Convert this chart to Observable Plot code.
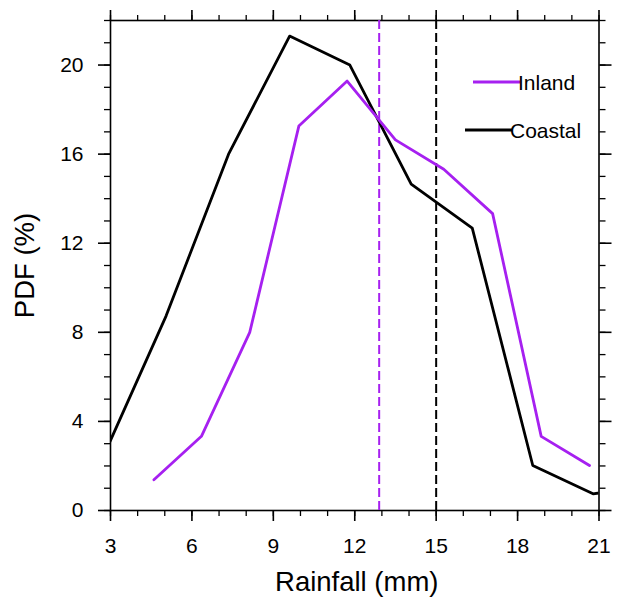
<!DOCTYPE html>
<html>
<head>
<meta charset="utf-8">
<script src="https://cdn.jsdelivr.net/npm/d3@7"></script>
<script src="https://cdn.jsdelivr.net/npm/@observablehq/plot@0.6"></script>
<style>
  html, body { margin: 0; padding: 0; background: #fff; }
  #chart { position: relative; width: 621px; height: 599px; }
</style>
</head>
<body>
<div id="chart"></div>
<script>
// Data
const inlandX  = [4.6, 6.35, 8.13, 9.94, 11.72, 13.5, 15.28, 17.08, 18.87, 20.65];
const inlandY  = [1.38, 3.33, 8.0, 17.26, 19.28, 16.64, 15.32, 13.33, 3.33, 2.02];
const coastalX = [2.8, 5.05, 7.35, 9.6, 11.82, 14.08, 16.33, 18.56, 20.78, 23.0];
const coastalY = [2.6, 8.74, 16.0, 21.3, 20.0, 14.65, 12.68, 2.02, 0.75, 1.1];
const meanNames = ["Inland", "Coastal"];
const meanValues = [12.9, 15.0];
const seriesNames = ["Inland", "Coastal"];
const seriesColors = ["#a620f0", "#000000"];
const xMajorTicks = [3, 6, 9, 12, 15, 18, 21];
const xMinorTicks = d3.range(3, 22, 1);
const yMajorTicks = [0, 4, 8, 12, 16, 20];
const yMinorTicks = d3.range(0, 23, 1);

const inland = inlandX.map((x, i) => ({x, y: inlandY[i], s: "Inland"}));
const coastal = coastalX.map((x, i) => ({x, y: coastalY[i], s: "Coastal"}));
const means = meanNames.map((s, i) => ({s, x: meanValues[i]}));
const color = s => seriesColors[seriesNames.indexOf(s)];

const font = "'Liberation Sans', Arial, Helvetica, sans-serif";
const tickFont = 21;
const labelFont = 27.5;

const plot = Plot.plot({
  width: 621,
  height: 599,
  marginLeft: 110,
  marginRight: 22.5,
  marginTop: 20,
  marginBottom: 89,
  style: {fontFamily: font, background: "#fff", color: "#000", overflow: "visible"},
  x: {domain: [3, 21]},
  y: {domain: [0, 22]},
  marks: [
    // minor ticks
    Plot.axisX({anchor: "bottom", ticks: xMinorTicks, tickSize: 6, tickFormat: () => "", strokeWidth: 1.3, label: null}),
    Plot.axisX({anchor: "top", ticks: xMinorTicks, tickSize: 6, tickFormat: () => "", strokeWidth: 1.3, label: null}),
    Plot.axisY({anchor: "left", ticks: yMinorTicks, tickSize: 6, tickFormat: () => "", strokeWidth: 1.3, label: null}),
    Plot.axisY({anchor: "right", ticks: yMinorTicks, tickSize: 6, tickFormat: () => "", strokeWidth: 1.3, label: null}),
    // major ticks
    Plot.axisX({anchor: "bottom", ticks: xMajorTicks, tickSize: 11, tickPadding: 17, fontSize: tickFont, strokeWidth: 1.6, label: null}),
    Plot.axisX({anchor: "top", ticks: xMajorTicks, tickSize: 11, tickFormat: () => "", strokeWidth: 1.6, label: null}),
    Plot.axisY({anchor: "left", ticks: yMajorTicks, tickSize: 12, tickPadding: 15, fontSize: tickFont, strokeWidth: 1.6, label: null}),
    Plot.axisY({anchor: "right", ticks: yMajorTicks, tickSize: 12, tickFormat: () => "", strokeWidth: 1.6, label: null}),
    Plot.frame({stroke: "#000", strokeWidth: 1.6}),
    // mean lines
    Plot.ruleX(means, {x: "x", stroke: d => color(d.s), strokeWidth: 2, strokeDasharray: "9,4"}),
    // series
    Plot.line(coastal, {x: "x", y: "y", stroke: seriesColors[1], strokeWidth: 2.8, clip: true}),
    Plot.line(inland, {x: "x", y: "y", stroke: seriesColors[0], strokeWidth: 2.8, clip: true}),
    // axis titles
    Plot.text(["Rainfall (mm)"], {frameAnchor: "bottom", textAnchor: "middle", lineAnchor: "middle", dx: 2, dy: 72, fontSize: labelFont, fill: "#000"}),
    Plot.text(["PDF (%)"], {frameAnchor: "left", textAnchor: "middle", lineAnchor: "middle", dx: -85, rotate: -90, fontSize: labelFont, fill: "#000"})
  ]
});

document.getElementById("chart").appendChild(plot);

// Legend (inside the plot area, upper right)
const svg = d3.select(plot);
const legend = [
  {name: seriesNames[0], x1: 473, x2: 520, y: 82, tx: 518},
  {name: seriesNames[1], x1: 465, x2: 512, y: 130, tx: 510}
];
const g = svg.append("g");
legend.forEach(d => {
  g.append("line").attr("x1", d.x1).attr("x2", d.x2).attr("y1", d.y).attr("y2", d.y)
    .attr("stroke", color(d.name)).attr("stroke-width", 2.8);
  g.append("text").attr("x", d.tx).attr("y", d.y).attr("dy", "0.36em")
    .attr("text-anchor", "start")
    .attr("font-size", tickFont).attr("font-family", font).attr("fill", "#000").text(d.name);
});
</script>
</body>
</html>
